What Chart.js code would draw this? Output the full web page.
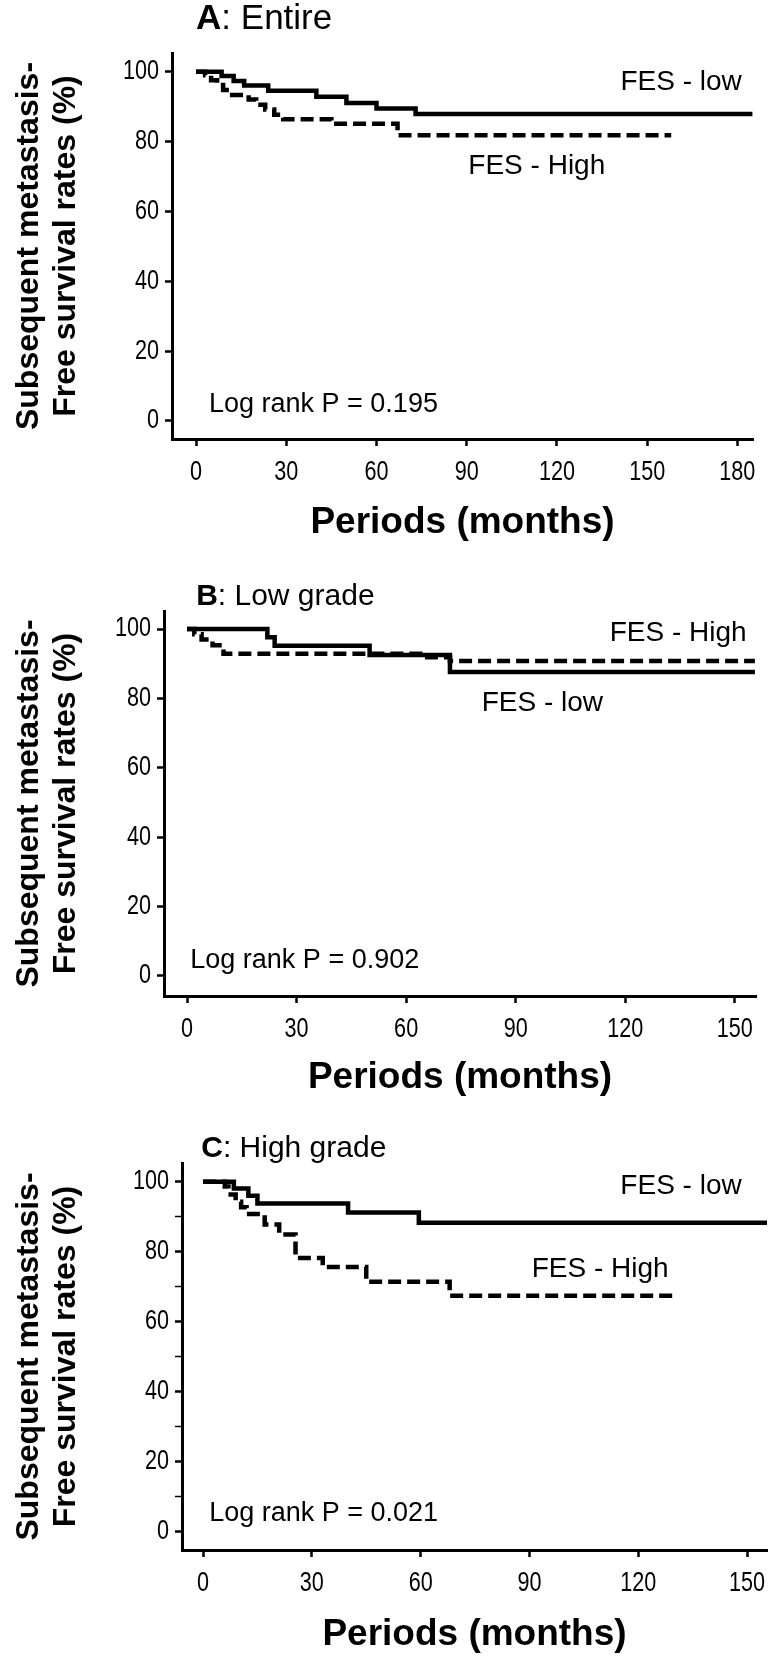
<!DOCTYPE html>
<html>
<head>
<meta charset="utf-8">
<script src="https://cdn.jsdelivr.net/npm/chart.js@4.4.1/dist/chart.umd.min.js"></script>
<style>
  body { margin: 0; background: #fff; width: 774px; height: 1657px; overflow: hidden; position: relative; }
  canvas { position: absolute; left: 0; }
</style>
</head>
<body>
<canvas id="chartA" width="774" height="545" style="top:0px"></canvas>
<canvas id="chartB" width="774" height="555" style="top:545px"></canvas>
<canvas id="chartC" width="774" height="557" style="top:1100px"></canvas>
<script>
// Kaplan-Meier steps: months -> survival %
const entireLowMonths  = [0, 8.5, 12.5, 16, 24, 40, 50, 60, 73, 185];
const entireLowRate    = [100, 98.8, 97.4, 96.1, 94.6, 92.9, 91.1, 89.5, 87.9, 87.9];
const entireHighMonths = [0, 3, 5, 7, 9, 12, 17.5, 20, 23, 26, 29, 45, 67, 158];
const entireHighRate   = [100, 99, 97.6, 96.2, 94.8, 93.4, 92.1, 90.6, 89.2, 87.7, 86.4, 85.1, 81.8, 81.8];

const lowGradeLowMonths  = [0, 22, 24, 50, 72, 155.5];
const lowGradeLowRate    = [100, 97.6, 95.2, 92.5, 87.6, 87.6];
const lowGradeHighMonths = [0, 2, 4, 7, 10, 65, 72, 155.5];
const lowGradeHighRate   = [100, 98.5, 97, 95.3, 92.9, 91.9, 90.8, 90.8];

const highGradeLowMonths  = [0, 8.5, 12.5, 15, 40, 59.5, 155.5];
const highGradeLowRate    = [100, 98.1, 96, 93.8, 91.2, 88.3, 88.3];
const highGradeHighMonths = [0, 6, 7, 9, 10.5, 12, 17, 21, 25.5, 33, 45, 68, 130];
const highGradeHighRate   = [100, 98.7, 96.4, 94.3, 92.7, 90.8, 87.8, 84.9, 78.2, 75.6, 71.4, 67.4, 67.4];

const yTickValues = [0, 20, 40, 60, 80, 100];
const yMinorValues = [10, 30, 50, 70, 90];
const xTicksEntire = [0, 30, 60, 90, 120, 150, 180];
const xTicksGrade = [0, 30, 60, 90, 120, 150];

const SANS = "'Liberation Sans', Arial, sans-serif";

const toPoints = (xs, ys) => xs.map((x, i) => ({x: x, y: ys[i]}));

// narrow-looking text: squeeze horizontally
const squeezedText = (ctx, text, x, y, align, squeeze) => {
    ctx.save();
    ctx.translate(x, y);
    ctx.scale(squeeze, 1);
    ctx.textAlign = align;
    ctx.fillText(text, 0, 0);
    ctx.restore();
};

// tick labels drawn here so they can be condensed like the original
const narrowTicks = {
    id: 'narrowTicks',
    afterDraw(chart, args, opts) {
        const ctx = chart.ctx;
        const xs = chart.scales.x;
        const ys = chart.scales.y;
        ctx.save();
        ctx.fillStyle = '#000';
        ctx.textBaseline = 'middle';
        ctx.font = opts.size + 'px ' + SANS;
        ys.ticks.forEach((t) => {
            if (t.value % 20 !== 0) return;
            squeezedText(ctx, String(t.value), ys.right - opts.yGap, ys.getPixelForValue(t.value), 'right', opts.squeeze);
        });
        xs.ticks.forEach((t) => {
            squeezedText(ctx, String(t.value), xs.getPixelForValue(t.value), xs.top + opts.xGap, 'center', opts.squeeze);
        });
        ctx.restore();
    }
};

// panel title "A: Entire" with bold letter
const panelTitle = {
    id: 'panelTitle',
    afterDraw(chart, args, opts) {
        const ctx = chart.ctx;
        const x = chart.scales.x.getPixelForValue(opts.at);
        const y = chart.chartArea.top - opts.gap;
        ctx.save();
        ctx.fillStyle = '#000';
        ctx.textBaseline = 'middle';
        ctx.textAlign = 'left';
        ctx.font = 'bold ' + opts.size + 'px ' + SANS;
        ctx.fillText(opts.letter, x, y);
        const w = ctx.measureText(opts.letter).width;
        ctx.font = opts.size + 'px ' + SANS;
        ctx.fillText(': ' + opts.text, x + w, y);
        ctx.restore();
    }
};

const curveLabels = {
    id: 'curveLabels',
    afterDatasetsDraw(chart, args, opts) {
        const ctx = chart.ctx;
        ctx.save();
        ctx.fillStyle = '#000';
        ctx.textBaseline = 'middle';
        opts.items.forEach((item) => {
            ctx.font = item.size + 'px ' + SANS;
            ctx.textAlign = item.align;
            ctx.fillText(item.text, chart.scales.x.getPixelForValue(item.x), chart.scales.y.getPixelForValue(item.y));
        });
        ctx.restore();
    }
};

const makeChart = (id, cfg) => {
    const canvas = document.getElementById(id);
    const datasets = [
        {
            label: 'FES - low',
            data: toPoints(cfg.lowMonths, cfg.lowRate),
            borderColor: '#000',
            borderWidth: 4.5,
            stepped: true,
            pointRadius: 0,
            fill: false,
            borderCapStyle: 'butt'
        },
        {
            label: 'FES - High',
            data: toPoints(cfg.highMonths, cfg.highRate),
            borderColor: '#000',
            borderWidth: 4.5,
            borderDash: [13, 6],
            stepped: true,
            pointRadius: 0,
            fill: false,
            borderCapStyle: 'butt'
        }
    ];
    const yTicks = cfg.minor ? yTickValues.concat(yMinorValues) : yTickValues;
    return new Chart(canvas, {
        type: 'line',
        data: {datasets: datasets},
        options: {
            responsive: false,
            animation: false,
            layout: {padding: {top: cfg.top, right: cfg.right, left: 0, bottom: 0}},
            plugins: {
                legend: {display: false},
                tooltip: {enabled: false},
                panelTitle: cfg.title,
                curveLabels: {items: cfg.labels},
                narrowTicks: {size: 27, squeeze: 0.8, yGap: 13, xGap: 34}
            },
            scales: {
                x: {
                    type: 'linear',
                    min: cfg.xMin,
                    max: cfg.xMax,
                    afterBuildTicks: (s) => { s.ticks = cfg.xTicks.map((v) => ({value: v})); },
                    afterFit: (s) => { s.height = cfg.xHeight; },
                    grid: {drawOnChartArea: false, drawTicks: true, tickLength: 7, tickWidth: 2.5, tickColor: '#000'},
                    border: {display: true, color: '#000', width: 3},
                    ticks: {display: false},
                    title: {
                        display: true,
                        text: 'Periods (months)',
                        color: '#000',
                        font: {family: SANS, size: 37, weight: 'bold', lineHeight: 1},
                        padding: {top: 0, bottom: 4}
                    }
                },
                y: {
                    type: 'linear',
                    min: cfg.yMin,
                    max: cfg.yMax,
                    afterBuildTicks: (s) => { s.ticks = yTicks.map((v) => ({value: v})); },
                    afterFit: (s) => { s.width = cfg.left; },
                    grid: {
                        drawOnChartArea: false,
                        drawTicks: true,
                        tickLength: 7,
                        tickWidth: (c) => (c.tick && c.tick.value % 20 !== 0 ? 1.5 : 2.5),
                        tickColor: '#000'
                    },
                    border: {display: true, color: '#000', width: 3},
                    ticks: {display: false},
                    title: {
                        display: true,
                        text: ['Subsequent metastasis-', 'Free survival rates (%)'],
                        color: '#000',
                        font: {family: SANS, size: 32, weight: 'bold', lineHeight: 1.17},
                        padding: {top: 10, bottom: 0}
                    }
                }
            }
        },
        plugins: [panelTitle, curveLabels, narrowTicks]
    });
};

makeChart('chartA', {
    lowMonths: entireLowMonths, lowRate: entireLowRate,
    highMonths: entireHighMonths, highRate: entireHighRate,
    xTicks: xTicksEntire, xMin: -8, xMax: 185.2,
    yMin: -5.2, yMax: 105.4,
    top: 53, right: 21, left: 172, xHeight: 106,
    minor: false,
    title: {letter: 'A', text: 'Entire', at: 0, gap: 34, size: 35},
    labels: [
        {text: 'FES - low', x: 161.3, y: 97, align: 'center', size: 28},
        {text: 'FES - High', x: 113.3, y: 72.8, align: 'center', size: 28},
        {text: 'Log rank P = 0.195', x: 4.3, y: 4.6, align: 'left', size: 27}
    ]
});

makeChart('chartB', {
    lowMonths: lowGradeLowMonths, lowRate: lowGradeLowRate,
    highMonths: lowGradeHighMonths, highRate: lowGradeHighRate,
    xTicks: xTicksGrade, xMin: -6.3, xMax: 155.8,
    yMin: -5.8, yMax: 105.2,
    top: 66, right: 18, left: 164, xHeight: 104,
    minor: false,
    title: {letter: 'B', text: 'Low grade', at: 2.5, gap: 14, size: 30},
    labels: [
        {text: 'FES - High', x: 134.5, y: 98.8, align: 'center', size: 28},
        {text: 'FES - low', x: 97.3, y: 78.7, align: 'center', size: 28},
        {text: 'Log rank P = 0.902', x: 0.9, y: 4.3, align: 'left', size: 27}
    ]
});

makeChart('chartC', {
    lowMonths: highGradeLowMonths, lowRate: highGradeLowRate,
    highMonths: highGradeHighMonths, highRate: highGradeHighRate,
    xTicks: xTicksGrade, xMin: -5.8, xMax: 155.5,
    yMin: -5.4, yMax: 105.4,
    top: 63, right: 7, left: 182, xHeight: 107,
    minor: true,
    title: {letter: 'C', text: 'High grade', at: -0.5, gap: 14, size: 30},
    labels: [
        {text: 'FES - low', x: 131.8, y: 98.8, align: 'center', size: 28},
        {text: 'FES - High', x: 109.5, y: 75.1, align: 'center', size: 28},
        {text: 'Log rank P = 0.021', x: 1.7, y: 4.9, align: 'left', size: 27}
    ]
});
</script>
</body>
</html>
